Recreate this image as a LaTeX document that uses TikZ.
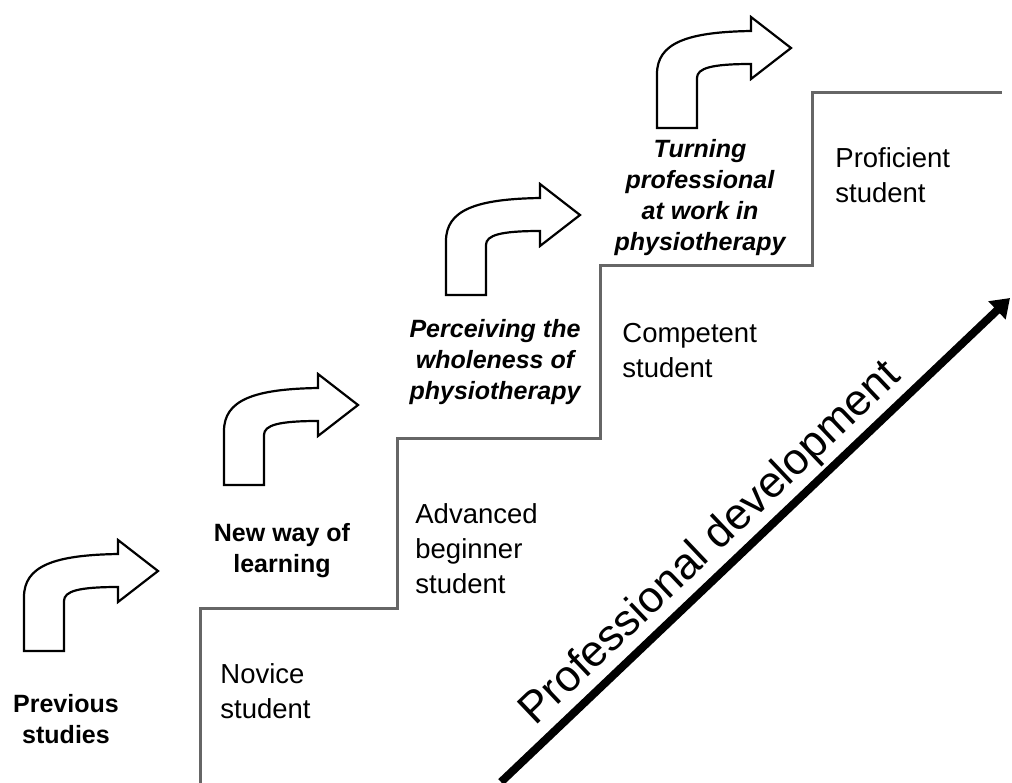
\documentclass[tikz,border=0pt]{standalone}
\usepackage{fontspec}
\setmainfont{Liberation Sans}
\usetikzlibrary{positioning,calc,arrows.meta}

\tikzset{
  stage/.style={font=\fontsize{13.75}{17.5}\selectfont, align=left, anchor=north west, inner sep=0pt},
  phase/.style={font=\fontsize{12.5}{15.5}\selectfont\bfseries, align=center, anchor=north, inner sep=0pt},
  phaseit/.style={phase, font=\fontsize{12.5}{15.5}\selectfont\bfseries\itshape},
  bentarrow/.pic={
    \draw[line width=1.1pt, fill=white] (0,0) -- (0,-54) .. controls (0,-85) and (30,-96) .. (94,-97)
      -- (94,-111) -- (134,-80) -- (94,-49) -- (94,-64)
      .. controls (55,-64) and (40,-60) .. (40,-50) -- (40,0) -- cycle;
  }
}

\begin{document}
\begin{tikzpicture}[x=0.5pt, y=-0.5pt]
		\useasboundingbox (0,0) rectangle (1012,782);
		\clip (0,0) rectangle (1012,782);

		% staircase
		\draw[black!60, line width=1.5pt] (200,790) -- (200,608) -- (397,608) -- (397,438)
			-- (600,438) -- (600,265) -- (812,265) -- (812,92) -- (1002,92);

		% bent arrows above each step
		\pic at (24,651) {bentarrow};
		\pic at (224,485) {bentarrow};
		\pic at (446,295) {bentarrow};
		\pic at (657,128) {bentarrow};

		% phases
		\node[phase] (previous) at (66,694) {Previous\\studies};
		\node[phase] (newway) at (282,523) {New way of\\learning};
		\node[phaseit] (wholeness) at (495,319) {Perceiving the\\wholeness of\\physiotherapy};
		\node[phaseit] (turning) at (700,139) {Turning\\professional\\at work in\\physiotherapy};

		% stages
		\node[stage] (novice) at (220,663) {Novice\\student};
		\node[stage] (advanced) at (415,503) {Advanced\\beginner\\student};
		\node[stage] (competent) at (622,323) {Competent\\student};
		\node[stage] (proficient) at (835,147) {Proficient\\student};

		% development axis
		\coordinate (devstart) at (501,782);
		\coordinate (devend) at (1010,298);
		\draw[line width=4pt, -{Triangle[length=9pt, width=12pt]}] (devstart) --
			node[sloped, above=1.5pt, inner sep=0pt, pos=0.45, font=\fontsize{22}{26}\selectfont] (devlabel) {Professional development} (devend);
	\end{tikzpicture}
\end{document}
